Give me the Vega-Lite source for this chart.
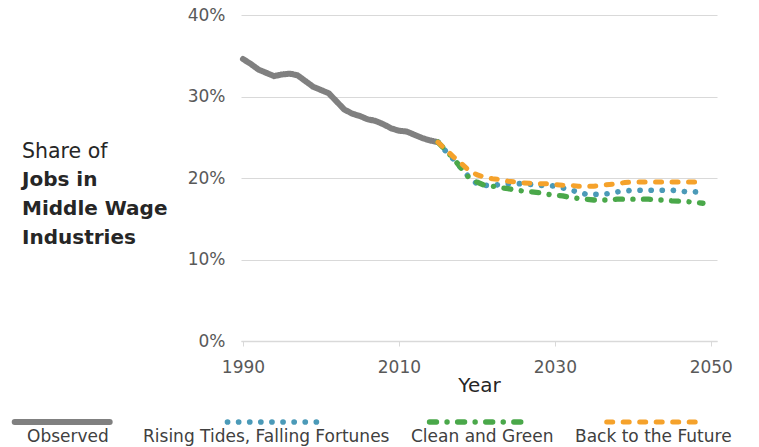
{
  "$schema": "https://vega.github.io/schema/vega-lite/v6.json",
  "width": 476,
  "height": 326,
  "autosize": {"type": "none"},
  "padding": {"left": 241, "top": 15, "right": 42, "bottom": 106},
  "background": "white",
  "config": {"font": "DejaVu Sans", "view": {"stroke": null}},
  "title": {
    "text": "Share of",
    "subtitle": ["Jobs in", "Middle Wage", "Industries"],
    "anchor": "start",
    "frame": "group",
    "orient": "top",
    "dx": -219,
    "dy": 246,
    "fontSize": 20.5,
    "fontWeight": "normal",
    "color": "#262626",
    "subtitleFontSize": 20,
    "subtitleFontWeight": "bold",
    "subtitleColor": "#262626",
    "subtitleLineHeight": 29,
    "subtitlePadding": 8
  },
  "data": {
    "values": [
      {"year": 1990, "series": "Observed", "share": 0.346},
      {"year": 1991, "series": "Observed", "share": 0.340},
      {"year": 1992, "series": "Observed", "share": 0.333},
      {"year": 1993, "series": "Observed", "share": 0.329},
      {"year": 1994, "series": "Observed", "share": 0.325},
      {"year": 1995, "series": "Observed", "share": 0.327},
      {"year": 1996, "series": "Observed", "share": 0.328},
      {"year": 1997, "series": "Observed", "share": 0.326},
      {"year": 1998, "series": "Observed", "share": 0.319},
      {"year": 1999, "series": "Observed", "share": 0.312},
      {"year": 2000, "series": "Observed", "share": 0.308},
      {"year": 2001, "series": "Observed", "share": 0.304},
      {"year": 2002, "series": "Observed", "share": 0.294},
      {"year": 2003, "series": "Observed", "share": 0.284},
      {"year": 2004, "series": "Observed", "share": 0.279},
      {"year": 2005, "series": "Observed", "share": 0.276},
      {"year": 2006, "series": "Observed", "share": 0.272},
      {"year": 2007, "series": "Observed", "share": 0.270},
      {"year": 2008, "series": "Observed", "share": 0.266},
      {"year": 2009, "series": "Observed", "share": 0.261},
      {"year": 2010, "series": "Observed", "share": 0.258},
      {"year": 2011, "series": "Observed", "share": 0.257},
      {"year": 2012, "series": "Observed", "share": 0.253},
      {"year": 2013, "series": "Observed", "share": 0.249},
      {"year": 2014, "series": "Observed", "share": 0.246},
      {"year": 2015, "series": "Observed", "share": 0.244},

      {"year": 2015, "series": "Rising Tides, Falling Fortunes", "share": 0.244},
      {"year": 2016, "series": "Rising Tides, Falling Fortunes", "share": 0.233},
      {"year": 2017, "series": "Rising Tides, Falling Fortunes", "share": 0.223},
      {"year": 2018, "series": "Rising Tides, Falling Fortunes", "share": 0.212},
      {"year": 2019, "series": "Rising Tides, Falling Fortunes", "share": 0.201},
      {"year": 2020, "series": "Rising Tides, Falling Fortunes", "share": 0.193},
      {"year": 2021, "series": "Rising Tides, Falling Fortunes", "share": 0.191},
      {"year": 2022, "series": "Rising Tides, Falling Fortunes", "share": 0.191},
      {"year": 2023, "series": "Rising Tides, Falling Fortunes", "share": 0.192},
      {"year": 2024, "series": "Rising Tides, Falling Fortunes", "share": 0.193},
      {"year": 2025, "series": "Rising Tides, Falling Fortunes", "share": 0.193},
      {"year": 2026, "series": "Rising Tides, Falling Fortunes", "share": 0.193},
      {"year": 2027, "series": "Rising Tides, Falling Fortunes", "share": 0.192},
      {"year": 2028, "series": "Rising Tides, Falling Fortunes", "share": 0.191},
      {"year": 2029, "series": "Rising Tides, Falling Fortunes", "share": 0.191},
      {"year": 2030, "series": "Rising Tides, Falling Fortunes", "share": 0.190},
      {"year": 2031, "series": "Rising Tides, Falling Fortunes", "share": 0.188},
      {"year": 2032, "series": "Rising Tides, Falling Fortunes", "share": 0.185},
      {"year": 2033, "series": "Rising Tides, Falling Fortunes", "share": 0.183},
      {"year": 2034, "series": "Rising Tides, Falling Fortunes", "share": 0.180},
      {"year": 2035, "series": "Rising Tides, Falling Fortunes", "share": 0.180},
      {"year": 2036, "series": "Rising Tides, Falling Fortunes", "share": 0.180},
      {"year": 2037, "series": "Rising Tides, Falling Fortunes", "share": 0.181},
      {"year": 2038, "series": "Rising Tides, Falling Fortunes", "share": 0.183},
      {"year": 2039, "series": "Rising Tides, Falling Fortunes", "share": 0.184},
      {"year": 2040, "series": "Rising Tides, Falling Fortunes", "share": 0.185},
      {"year": 2041, "series": "Rising Tides, Falling Fortunes", "share": 0.185},
      {"year": 2042, "series": "Rising Tides, Falling Fortunes", "share": 0.185},
      {"year": 2043, "series": "Rising Tides, Falling Fortunes", "share": 0.185},
      {"year": 2044, "series": "Rising Tides, Falling Fortunes", "share": 0.185},
      {"year": 2045, "series": "Rising Tides, Falling Fortunes", "share": 0.185},
      {"year": 2046, "series": "Rising Tides, Falling Fortunes", "share": 0.184},
      {"year": 2047, "series": "Rising Tides, Falling Fortunes", "share": 0.183},
      {"year": 2048, "series": "Rising Tides, Falling Fortunes", "share": 0.183},
      {"year": 2049, "series": "Rising Tides, Falling Fortunes", "share": 0.182},

      {"year": 2015, "series": "Clean and Green", "share": 0.244},
      {"year": 2016, "series": "Clean and Green", "share": 0.234},
      {"year": 2017, "series": "Clean and Green", "share": 0.224},
      {"year": 2018, "series": "Clean and Green", "share": 0.212},
      {"year": 2019, "series": "Clean and Green", "share": 0.200},
      {"year": 2020, "series": "Clean and Green", "share": 0.195},
      {"year": 2021, "series": "Clean and Green", "share": 0.191},
      {"year": 2022, "series": "Clean and Green", "share": 0.190},
      {"year": 2023, "series": "Clean and Green", "share": 0.188},
      {"year": 2024, "series": "Clean and Green", "share": 0.187},
      {"year": 2025, "series": "Clean and Green", "share": 0.185},
      {"year": 2026, "series": "Clean and Green", "share": 0.184},
      {"year": 2027, "series": "Clean and Green", "share": 0.183},
      {"year": 2028, "series": "Clean and Green", "share": 0.182},
      {"year": 2029, "series": "Clean and Green", "share": 0.180},
      {"year": 2030, "series": "Clean and Green", "share": 0.179},
      {"year": 2031, "series": "Clean and Green", "share": 0.178},
      {"year": 2032, "series": "Clean and Green", "share": 0.176},
      {"year": 2033, "series": "Clean and Green", "share": 0.175},
      {"year": 2034, "series": "Clean and Green", "share": 0.174},
      {"year": 2035, "series": "Clean and Green", "share": 0.173},
      {"year": 2036, "series": "Clean and Green", "share": 0.173},
      {"year": 2037, "series": "Clean and Green", "share": 0.173},
      {"year": 2038, "series": "Clean and Green", "share": 0.174},
      {"year": 2039, "series": "Clean and Green", "share": 0.174},
      {"year": 2040, "series": "Clean and Green", "share": 0.174},
      {"year": 2041, "series": "Clean and Green", "share": 0.174},
      {"year": 2042, "series": "Clean and Green", "share": 0.174},
      {"year": 2043, "series": "Clean and Green", "share": 0.173},
      {"year": 2044, "series": "Clean and Green", "share": 0.173},
      {"year": 2045, "series": "Clean and Green", "share": 0.172},
      {"year": 2046, "series": "Clean and Green", "share": 0.1715},
      {"year": 2047, "series": "Clean and Green", "share": 0.171},
      {"year": 2048, "series": "Clean and Green", "share": 0.170},
      {"year": 2049, "series": "Clean and Green", "share": 0.169},

      {"year": 2015, "series": "Back to the Future", "share": 0.244},
      {"year": 2016, "series": "Back to the Future", "share": 0.235},
      {"year": 2017, "series": "Back to the Future", "share": 0.226},
      {"year": 2018, "series": "Back to the Future", "share": 0.218},
      {"year": 2019, "series": "Back to the Future", "share": 0.209},
      {"year": 2020, "series": "Back to the Future", "share": 0.204},
      {"year": 2021, "series": "Back to the Future", "share": 0.201},
      {"year": 2022, "series": "Back to the Future", "share": 0.199},
      {"year": 2023, "series": "Back to the Future", "share": 0.198},
      {"year": 2024, "series": "Back to the Future", "share": 0.196},
      {"year": 2025, "series": "Back to the Future", "share": 0.195},
      {"year": 2026, "series": "Back to the Future", "share": 0.194},
      {"year": 2027, "series": "Back to the Future", "share": 0.1935},
      {"year": 2028, "series": "Back to the Future", "share": 0.193},
      {"year": 2029, "series": "Back to the Future", "share": 0.193},
      {"year": 2030, "series": "Back to the Future", "share": 0.192},
      {"year": 2031, "series": "Back to the Future", "share": 0.191},
      {"year": 2032, "series": "Back to the Future", "share": 0.191},
      {"year": 2033, "series": "Back to the Future", "share": 0.190},
      {"year": 2034, "series": "Back to the Future", "share": 0.190},
      {"year": 2035, "series": "Back to the Future", "share": 0.190},
      {"year": 2036, "series": "Back to the Future", "share": 0.191},
      {"year": 2037, "series": "Back to the Future", "share": 0.192},
      {"year": 2038, "series": "Back to the Future", "share": 0.193},
      {"year": 2039, "series": "Back to the Future", "share": 0.1945},
      {"year": 2040, "series": "Back to the Future", "share": 0.195},
      {"year": 2041, "series": "Back to the Future", "share": 0.195},
      {"year": 2042, "series": "Back to the Future", "share": 0.195},
      {"year": 2043, "series": "Back to the Future", "share": 0.195},
      {"year": 2044, "series": "Back to the Future", "share": 0.195},
      {"year": 2045, "series": "Back to the Future", "share": 0.195},
      {"year": 2046, "series": "Back to the Future", "share": 0.195},
      {"year": 2047, "series": "Back to the Future", "share": 0.195},
      {"year": 2048, "series": "Back to the Future", "share": 0.195},
      {"year": 2049, "series": "Back to the Future", "share": 0.195}
    ]
  },
  "mark": {"type": "line", "strokeCap": "round", "strokeJoin": "round"},
  "encoding": {
    "x": {
      "field": "year",
      "type": "quantitative",
      "scale": {"domain": [1989.75, 2050.8], "nice": false, "zero": false},
      "axis": {
        "values": [1990, 2010, 2030, 2050],
        "format": "d",
        "grid": false,
        "domainColor": "#d9d9d9",
        "domainWidth": 1.5,
        "tickColor": "#d9d9d9",
        "tickSize": 5,
        "labelFontSize": 17,
        "labelColor": "#595959",
        "labelPadding": 13,
        "title": "Year",
        "titleFontSize": 20,
        "titleFontWeight": "normal",
        "titleColor": "#262626",
        "titlePadding": 0
      }
    },
    "y": {
      "field": "share",
      "type": "quantitative",
      "scale": {"domain": [0, 0.4], "nice": false},
      "axis": {
        "values": [0, 0.1, 0.2, 0.3, 0.4],
        "format": ".0%",
        "grid": true,
        "gridColor": "#d9d9d9",
        "gridWidth": 1.2,
        "domain": false,
        "ticks": false,
        "labelFontSize": 17,
        "labelColor": "#595959",
        "labelPadding": 16,
        "title": null
      }
    },
    "color": {
      "field": "series",
      "type": "nominal",
      "scale": {
        "domain": ["Observed", "Rising Tides, Falling Fortunes", "Clean and Green", "Back to the Future"],
        "range": ["#808080", "#4b9ab8", "#4aa84a", "#f5a22b"]
      },
      "legend": {
        "title": null,
        "orient": "none",
        "legendX": -214,
        "legendY": 403,
        "direction": "horizontal",
        "columns": 4,
        "columnPadding": 21,
        "symbolType": "stroke",
        "symbolSize": 9025,
        "symbolStrokeWidth": 5,
        "labelFontSize": 17,
        "labelColor": "#404040",
        "labelLimit": 400,
        "encode": {
          "symbols": {"update": {"x": {"signal": "length(datum.label)*4.4"}, "y": {"value": 4}, "strokeCap": {"value": "round"}}},
          "labels": {"update": {"x": {"value": 0}, "y": {"value": 19}, "align": {"value": "left"}, "baseline": {"value": "middle"}}}
        }
      }
    },
    "strokeDash": {
      "field": "series",
      "type": "nominal",
      "scale": {
        "domain": ["Observed", "Rising Tides, Falling Fortunes", "Clean and Green", "Back to the Future"],
        "range": [[1, 0], [0.1, 11], [7, 10.5, 0.1, 10.5], [6, 10.5]]
      },
      "legend": null
    },
    "strokeWidth": {
      "field": "series",
      "type": "nominal",
      "scale": {
        "domain": ["Observed", "Rising Tides, Falling Fortunes", "Clean and Green", "Back to the Future"],
        "range": [6, 5, 5, 5.5]
      },
      "legend": null
    }
  }
}
